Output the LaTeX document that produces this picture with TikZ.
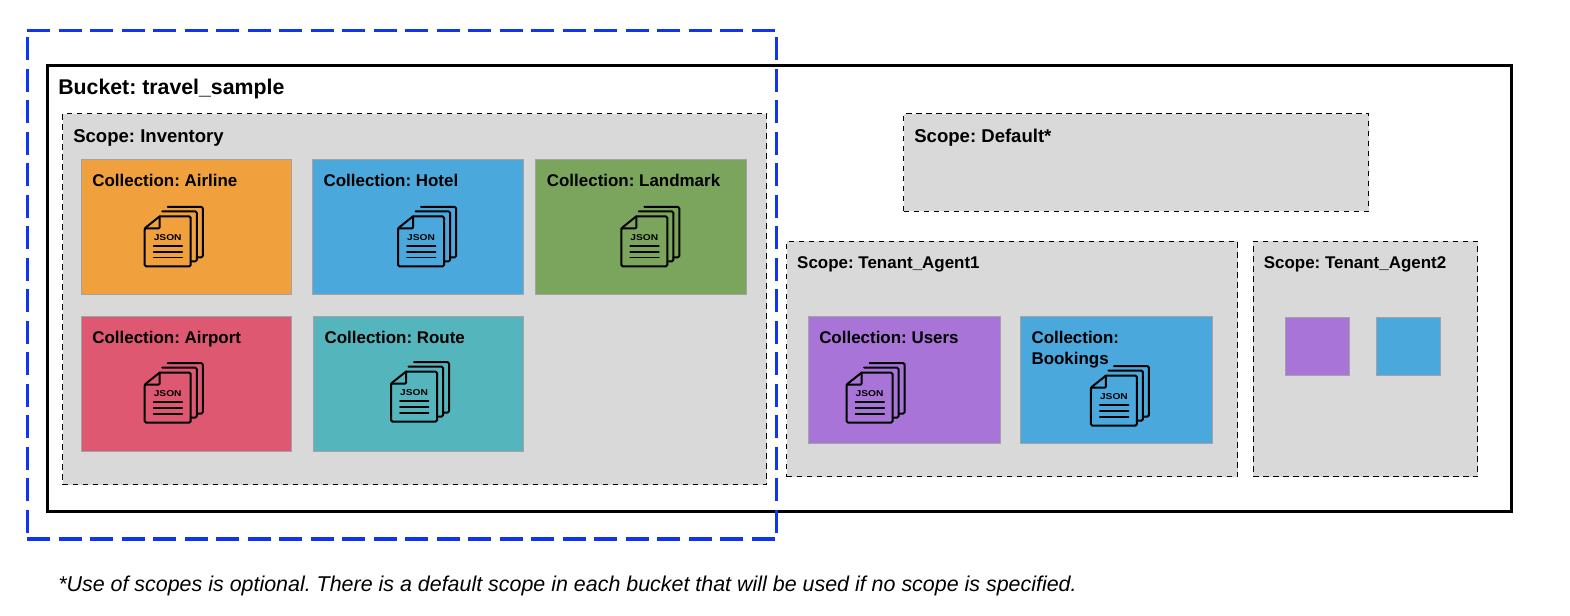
\documentclass[tikz,border=0pt]{standalone}
\usepackage{fontspec}
\setmainfont{Liberation Sans}
\newfontfamily\jsonfont[FakeStretch=1.2]{Liberation Sans}
\frenchspacing
\definecolor{cOrange}{HTML}{F0A03C}
\definecolor{cBlue}{HTML}{4AA8DC}
\definecolor{cGreen}{HTML}{7BA55D}
\definecolor{cRed}{HTML}{DE5872}
\definecolor{cTeal}{HTML}{55B5BD}
\definecolor{cPurple}{HTML}{A874D8}
\definecolor{cScope}{HTML}{D9D9D9}
\definecolor{cEdge}{HTML}{A3A3A3}
\definecolor{cDash}{HTML}{0F35F0}
\tikzset{
  x=1.0013pt,y=-1.0016pt,
  bucketbox/.style={draw=black,line width=3pt,fill=white},
  scopebox/.style={draw=black,line width=1.1pt,dash pattern=on 5.5pt off 4.5pt,fill=cScope},
  collbox/.style={draw=cEdge,line width=1pt,fill=#1},
  outerdash/.style={draw=cDash,line width=3.4pt,dash pattern=on 23pt off 8.5pt},
  lbl/.style={anchor=base west,inner sep=0pt,font=\fontsize{16.95}{20.5}\selectfont\bfseries,align=left},
  biglbl/.style={anchor=base west,inner sep=0pt,font=\fontsize{18.55}{22}\selectfont\bfseries},
  bucketlbl/.style={anchor=base west,inner sep=0pt,font=\fontsize{21.3}{25}\selectfont\bfseries},
  notelbl/.style={anchor=base west,inner sep=0pt,font=\fontsize{21.43}{25}\selectfont\itshape},
  pics/jsondoc/.style={code={
    \begin{scope}[line width=2pt,line join=round,line cap=round,draw=black]
      \draw[rounded corners=1.5pt] (23,-9.5) -- (58,-9.5) -- (58,41) -- (52,41);
      \draw[rounded corners=1.5pt] (17.5,-5) -- (52,-5) -- (52,45) -- (46,45);
      \draw[rounded corners=1.5pt] (15,0) -- (46,0) -- (46,50) -- (0,50) -- (0,12) -- (15,0);
      \draw[rounded corners=1pt] (15,0) -- (15,12) -- (0,12);
      \draw[line width=1.7pt] (9,29.5) -- (37.5,29.5);
      \draw[line width=1.7pt] (9,35.5) -- (37.5,35.5);
      \draw[line width=1.7pt] (9,41) -- (37.5,41);
    \end{scope}
    \node[anchor=center,inner sep=0pt,font=\jsonfont\fontsize{8.5}{10}\selectfont\bfseries] (-t) at (23,21) {JSON};
  }},
}
\newcommand{\rectnode}[6]{% style, name, x1, y1, x2, y2
  \pgfmathsetmacro{\rw}{(#5-#3)*1.0013}\pgfmathsetmacro{\rh}{(#6-#4)*1.0016}
  \node[#1,anchor=north west,inner sep=0pt,outer sep=0pt,minimum width=\rw pt,minimum height=\rh pt] (#2) at (#3,#4) {};
}
\begin{document}
\begin{tikzpicture}
\useasboundingbox (0,0) rectangle (1568,615);
\rectnode{bucketbox}{bucket}{47}{65}{1510}{511}
\rectnode{scopebox}{inventory}{62.5}{113.5}{765.8}{484}
\rectnode{scopebox}{default}{902.5}{113.5}{1367}{211}
\rectnode{scopebox}{tenantA}{785.5}{241}{1236}{476}
\rectnode{scopebox}{tenantB}{1251.5}{241}{1476}{476}
\rectnode{collbox=cOrange}{airline}{81}{159}{291}{294}
\rectnode{collbox=cBlue}{hotel}{312.5}{159}{523}{294}
\rectnode{collbox=cGreen}{landmark}{535}{159}{746}{294}
\rectnode{collbox=cRed}{airport}{81}{316}{291}{451}
\rectnode{collbox=cTeal}{route}{313}{316}{523}{451}
\rectnode{collbox=cPurple}{users}{807}{316}{999}{443}
\rectnode{collbox=cBlue}{bookings}{1019}{316}{1211}{443}
\rectnode{collbox=cPurple}{smallA}{1284}{317}{1348}{375}
\rectnode{collbox=cBlue}{smallB}{1375}{317}{1439}{375}
\rectnode{}{selection}{27.3}{30.3}{775.3}{538.3}
\draw[outerdash] (selection.north west) -- (selection.north east)
  (selection.south west) -- (selection.south east)
  ([yshift=-7pt]selection.north west) -- ([yshift=6pt]selection.south west)
  ([yshift=-7pt]selection.north east) -- ([yshift=6pt]selection.south east);
\node[bucketlbl] (tBucket) at (58,94.5) {Bucket: travel\_sample};
\node[biglbl] (tInv) at (73,142.3) {Scope: Inventory};
\node[biglbl] (tDef) at (913,142.3) {Scope: Default*};
\node[lbl] (tTA) at (796,268.5) {Scope: Tenant\_Agent1};
\node[lbl] (tTB) at (1262,268.5) {Scope: Tenant\_Agent2};
\node[lbl] (tAirline) at (92,186.3) {Collection: Airline};
\node[lbl] (tHotel) at (323,186.3) {Collection: Hotel};
\node[lbl] (tLandmark) at (546,186.3) {Collection: Landmark};
\node[lbl] (tAirport) at (92,343.3) {Collection: Airport};
\node[lbl] (tRoute) at (324,343.3) {Collection: Route};
\node[lbl] (tUsers) at (818,343.3) {Collection: Users};
\node[lbl] (tBookings) at (1030,363.8) {Collection:\\Bookings};
\pic (iAirline) at (144.5,216) {jsondoc};
\pic (iHotel) at (397.5,216) {jsondoc};
\pic (iLandmark) at (620.5,216) {jsondoc};
\pic (iAirport) at (144.5,372) {jsondoc};
\pic (iRoute) at (390.5,371) {jsondoc};
\pic (iUsers) at (845.5,372) {jsondoc};
\pic (iBookings) at (1089.5,375) {jsondoc};
\node[notelbl] (tNote) at (58,590.3) {*Use of scopes is optional. There is a default scope in each bucket that will be used if no scope is specified.};
\end{tikzpicture}
\end{document}
